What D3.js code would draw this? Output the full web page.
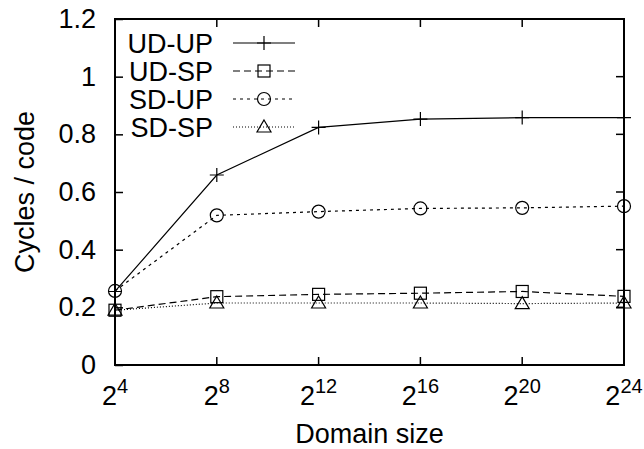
<html>
<head>
<script src="https://d3js.org/d3.v7.min.js"></script>
<style>
  body { margin: 0; background: #fff; }
  text { font-family: "Liberation Sans", Arial, sans-serif; fill: #000; }
</style>
</head>
<body>
<script>
// exponents of the domain size (2^n)
var exps = [4, 8, 12, 16, 20, 24];
var yTicks = [0, 0.2, 0.4, 0.6, 0.8, 1, 1.2];
var udUp = [0.255, 0.659, 0.824, 0.853, 0.858, 0.858];
var udSp = [0.190, 0.237, 0.245, 0.249, 0.255, 0.238];
var sdUp = [0.257, 0.519, 0.532, 0.543, 0.545, 0.551];
var sdSp = [0.190, 0.215, 0.215, 0.215, 0.213, 0.215];
var names = ["UD-UP", "UD-SP", "SD-UP", "SD-SP"];

var width = 644, height = 449;
// plot area edges (named so they don't clash with window.top)
var pLeft = 115, pRight = 624, pTop = 19, pBottom = 365;
var fs = "27px";

var svg = d3.select("body").append("svg")
  .attr("width", width).attr("height", height);

var x = d3.scaleLog().base(2)
  .domain([Math.pow(2, 4), Math.pow(2, 24)])
  .range([pLeft, pRight]);
var y = d3.scaleLinear().domain([0, 1.2]).range([pBottom, pTop]);

// y axis, ticks pointing inwards
var yAxis = svg.append("g")
  .attr("transform", "translate(" + pLeft + ",0)")
  .call(d3.axisLeft(y).tickValues(yTicks).tickSize(-8).tickPadding(19)
    .tickFormat(function(d){ return d3.format("~g")(d); }));
yAxis.select(".domain").remove();
yAxis.selectAll("line").attr("stroke", "#000").attr("stroke-width", 1.5);
yAxis.selectAll("text").style("font-size", fs).attr("font-family", null);

// mirrored ticks on the right
svg.append("g").selectAll("line").data(yTicks).enter().append("line")
  .attr("x1", pRight).attr("x2", pRight - 8)
  .attr("y1", function(d){ return y(d); }).attr("y2", function(d){ return y(d); })
  .attr("stroke", "#000").attr("stroke-width", 1.5);

// x ticks, bottom and top
var xv = exps.map(function(e){ return Math.pow(2, e); });
svg.append("g").selectAll("line").data(xv).enter().append("line")
  .attr("x1", function(d){ return x(d); }).attr("x2", function(d){ return x(d); })
  .attr("y1", pBottom).attr("y2", pBottom - 8)
  .attr("stroke", "#000").attr("stroke-width", 1.5);
svg.append("g").selectAll("line").data(xv).enter().append("line")
  .attr("x1", function(d){ return x(d); }).attr("x2", function(d){ return x(d); })
  .attr("y1", pTop).attr("y2", pTop + 8)
  .attr("stroke", "#000").attr("stroke-width", 1.5);

// x tick labels 2^n
var xl = svg.append("g").selectAll("text").data(exps).enter().append("text")
  .attr("x", function(d){ return x(Math.pow(2, d)); })
  .attr("y", 405)
  .attr("text-anchor", "middle")
  .style("font-size", fs);
xl.append("tspan").text("2");
xl.append("tspan").attr("dy", -12).style("font-size", "20px")
  .text(function(d){ return d; });

// frame
svg.append("rect")
  .attr("x", pLeft).attr("y", pTop)
  .attr("width", pRight - pLeft).attr("height", pBottom - pTop)
  .attr("fill", "none").attr("stroke", "#000").attr("stroke-width", 2);

// axis titles
svg.append("text")
  .attr("x", (pLeft + pRight) / 2).attr("y", 443)
  .attr("text-anchor", "middle").style("font-size", fs)
  .text("Domain size");
svg.append("text")
  .attr("transform", "translate(34," + ((pTop + pBottom) / 2) + ") rotate(-90)")
  .attr("text-anchor", "middle").style("font-size", fs)
  .text("Cycles / code");

// series
var series = [
  { name: names[0], vals: udUp, dash: null,  marker: "plus" },
  { name: names[1], vals: udSp, dash: "7,4", marker: "square" },
  { name: names[2], vals: sdUp, dash: "3,4", marker: "circle" },
  { name: names[3], vals: sdSp, dash: "1,2", marker: "triangle" }
];

var line = d3.line()
  .x(function(d){ return x(Math.pow(2, d[0])); })
  .y(function(d){ return y(d[1]); });

function drawMarker(g, type, cx, cy) {
  if (type == "plus") {
    g.append("path").attr("d", "M" + (cx - 7) + "," + cy + "H" + (cx + 7) +
      "M" + cx + "," + (cy - 7) + "V" + (cy + 7));
  } else if (type == "square") {
    g.append("rect").attr("x", cx - 6).attr("y", cy - 6)
      .attr("width", 12).attr("height", 12);
  } else if (type == "circle") {
    g.append("circle").attr("cx", cx).attr("cy", cy).attr("r", 6.5);
  } else {
    g.append("path").attr("d", "M" + cx + "," + (cy - 7) + "L" + (cx + 7) + "," + (cy + 5) +
      "L" + (cx - 7) + "," + (cy + 5) + "Z");
  }
}

series.forEach(function(s, i){
  var pts = exps.map(function(e, j){ return [e, s.vals[j]]; });
  svg.append("path")
    .attr("d", line(pts))
    .attr("fill", "none").attr("stroke", "#000").attr("stroke-width", 1.2)
    .attr("stroke-dasharray", s.dash);
  var mg = svg.append("g").attr("fill", "none").attr("stroke", "#000").attr("stroke-width", 1.2);
  pts.forEach(function(p){
    drawMarker(mg, s.marker, x(Math.pow(2, p[0])), y(p[1]));
  });

  // legend entry
  var ly = 43 + i * 28;
  svg.append("text")
    .attr("x", 213).attr("y", ly + 10)
    .attr("text-anchor", "end").style("font-size", fs)
    .text(s.name);
  svg.append("line")
    .attr("x1", 233).attr("x2", 295).attr("y1", ly).attr("y2", ly)
    .attr("stroke", "#000").attr("stroke-width", 1.2)
    .attr("stroke-dasharray", s.dash);
  var lg = svg.append("g").attr("fill", "none").attr("stroke", "#000").attr("stroke-width", 1.2);
  drawMarker(lg, s.marker, 264, ly);
});
</script>
</body>
</html>
